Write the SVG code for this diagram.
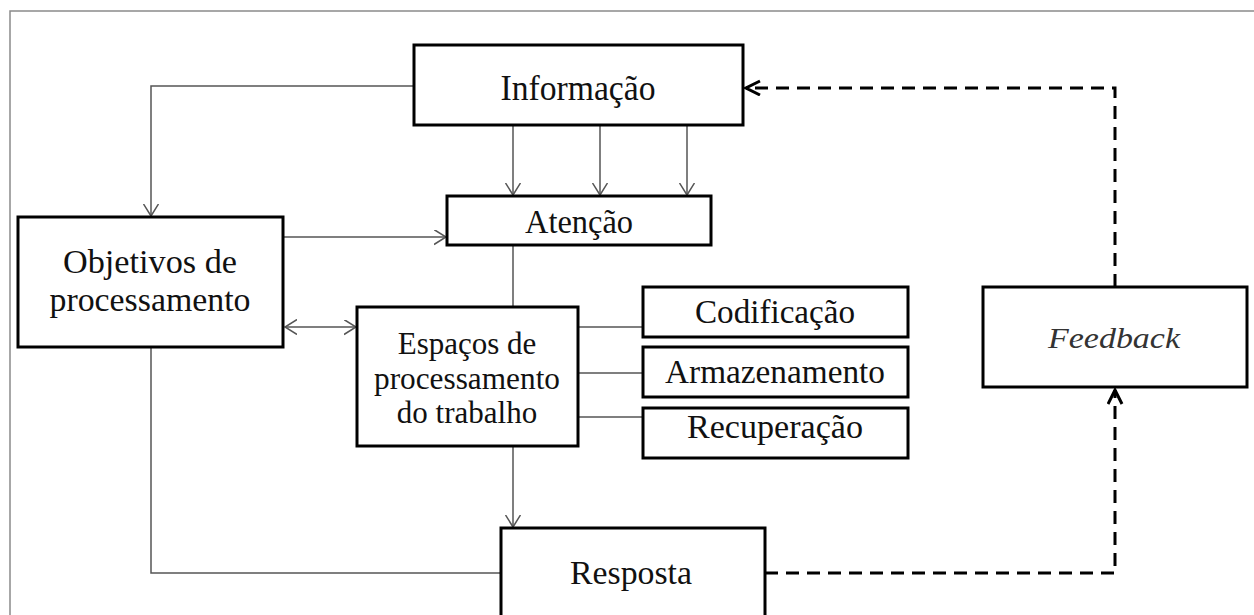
<svg xmlns="http://www.w3.org/2000/svg" width="1254" height="615" viewBox="0 0 1254 615">
<style>
  .box { fill: #ffffff; stroke: #000000; stroke-width: 3; }
  .lbl { font-family: "Liberation Serif", "Times New Roman", serif; font-size: 33px; fill: #111111; text-anchor: middle; }
  .conn { fill: none; stroke: #555555; stroke-width: 1.5; }
  .dash { fill: none; stroke: #000000; stroke-width: 3; stroke-dasharray: 13 8; }
</style>
<defs>
  <marker id="arr" markerUnits="userSpaceOnUse" markerWidth="14" markerHeight="16" refX="12" refY="7.5" orient="auto-start-reverse" viewBox="0 0 14 16">
    <path d="M0,0 L12,7.5 L0,15" fill="none" stroke="#555555" stroke-width="1.5"/>
  </marker>
  <marker id="arrd" markerUnits="userSpaceOnUse" markerWidth="18" markerHeight="20" refX="15" refY="8" orient="auto" viewBox="0 0 18 20">
    <path d="M1,1 L15,8 L1,15" fill="none" stroke="#000000" stroke-width="3"/>
  </marker>
</defs>
<rect x="0" y="0" width="1254" height="615" fill="#ffffff"/>
<rect x="10" y="11" width="1270" height="640" fill="none" stroke="#8a8a8a" stroke-width="1.5"/>

<g id="connectors">
  <polyline class="conn" points="414,86 151,86 151,216" marker-end="url(#arr)"/>
  <line class="conn" x1="513" y1="126" x2="513" y2="195" marker-end="url(#arr)"/>
  <line class="conn" x1="600" y1="126" x2="600" y2="195" marker-end="url(#arr)"/>
  <line class="conn" x1="687" y1="126" x2="687" y2="195" marker-end="url(#arr)"/>
  <line class="conn" x1="283" y1="237" x2="446" y2="237" marker-end="url(#arr)"/>
  <line class="conn" x1="285" y1="327" x2="356" y2="327" marker-start="url(#arr)" marker-end="url(#arr)"/>
  <line class="conn" x1="513" y1="245" x2="513" y2="307"/>
  <line class="conn" x1="578" y1="327" x2="643" y2="327"/>
  <line class="conn" x1="578" y1="373" x2="643" y2="373"/>
  <line class="conn" x1="578" y1="417" x2="643" y2="417"/>
  <line class="conn" x1="513" y1="446" x2="513" y2="527" marker-end="url(#arr)"/>
  <polyline class="conn" points="151,347 151,573 501,573"/>
  <polyline class="dash" points="765,573 1115,573 1115,390" marker-end="url(#arrd)"/>
  <polyline class="dash" points="1115,287 1115,88 746,88" marker-end="url(#arrd)"/>
</g>

<g id="informacao">
  <rect class="box" x="414" y="45" width="329" height="80"/>
  <text class="lbl" x="578" y="100" style="font-size:35px" textLength="155" lengthAdjust="spacingAndGlyphs">Informação</text>
</g>
<g id="atencao">
  <rect class="box" x="447" y="196" width="264" height="49"/>
  <text class="lbl" x="579" y="233" textLength="108" lengthAdjust="spacingAndGlyphs">Atenção</text>
</g>
<g id="objetivos">
  <rect class="box" x="18" y="217" width="265" height="130"/>
  <text class="lbl" x="150" y="273" style="font-size:34px" textLength="174" lengthAdjust="spacingAndGlyphs">Objetivos de</text>
  <text class="lbl" x="150" y="311" style="font-size:34px" textLength="201" lengthAdjust="spacingAndGlyphs">processamento</text>
</g>
<g id="espacos">
  <rect class="box" x="357" y="307" width="221" height="139"/>
  <text class="lbl" x="467" y="354" style="font-size:31px">Espaços de</text>
  <text class="lbl" x="467" y="389" style="font-size:31px" textLength="186" lengthAdjust="spacingAndGlyphs">processamento</text>
  <text class="lbl" x="467" y="423" style="font-size:31px">do trabalho</text>
</g>
<g id="codificacao">
  <rect class="box" x="643" y="287" width="265" height="50"/>
  <text class="lbl" x="775" y="323" textLength="160" lengthAdjust="spacingAndGlyphs">Codificação</text>
</g>
<g id="armazenamento">
  <rect class="box" x="643" y="347" width="265" height="50"/>
  <text class="lbl" x="775" y="383" textLength="220" lengthAdjust="spacingAndGlyphs">Armazenamento</text>
</g>
<g id="recuperacao">
  <rect class="box" x="643" y="408" width="265" height="50"/>
  <text class="lbl" x="775" y="438" textLength="176" lengthAdjust="spacingAndGlyphs">Recuperação</text>
</g>
<g id="feedback">
  <rect class="box" x="983" y="287" width="264" height="100"/>
  <text class="lbl" x="1114" y="348" style="font-size:30px;font-style:italic;fill:#333333" textLength="132" lengthAdjust="spacingAndGlyphs">Feedback</text>
</g>
<g id="resposta">
  <rect class="box" x="501" y="528" width="264" height="100"/>
  <text class="lbl" x="631" y="584" textLength="122" lengthAdjust="spacingAndGlyphs">Resposta</text>
</g>
</svg>
